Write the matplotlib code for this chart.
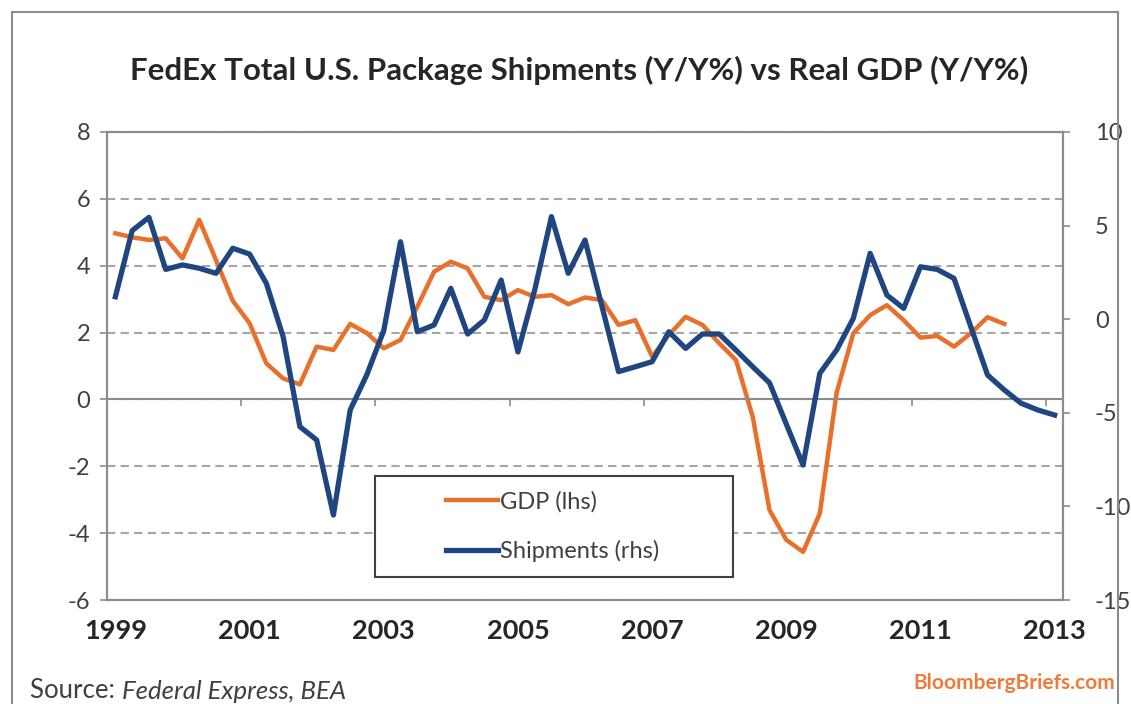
import pandas as pd
import matplotlib
matplotlib.use('Agg')
import matplotlib.pyplot as plt
from matplotlib.patches import Rectangle

plt.rcParams['font.family'] = ['Lato', 'DejaVu Sans']
plt.rcParams['axes.unicode_minus'] = False

# quarterly data, 1999Q1 .. 2013Q1
quarters = pd.period_range('1999Q1', '2013Q1', freq='Q')
year_labels = ['1999', '2001', '2003', '2005', '2007', '2009', '2011', '2013']

# Real GDP Y/Y % (lhs), through 2012Q2
gdp = [4.97, 4.85, 4.77, 4.82, 4.22, 5.37, 4.17, 2.95,
       2.28, 1.08, 0.63, 0.45, 1.58, 1.48, 2.26, 1.98,
       1.53, 1.78, 2.77, 3.82, 4.12, 3.92, 3.07, 2.97,
       3.27, 3.07, 3.12, 2.85, 3.05, 2.97, 2.23, 2.37,
       1.28, 1.93, 2.47, 2.23, 1.68, 1.18, -0.52, -3.31,
       -4.20, -4.56, -3.41, 0.20, 1.98, 2.52, 2.82, 2.37,
       1.85, 1.90, 1.58, 1.98, 2.46, 2.26]

# FedEx total U.S. package shipments Y/Y % (rhs)
shipments = [1.20, 4.73, 5.44, 2.66, 2.90, 2.72, 2.45, 3.79,
             3.48, 1.92, -0.93, -5.74, -6.45, -10.46, -4.85, -2.95,
             -0.60, 4.14, -0.67, -0.31, 1.65, -0.79, -0.04, 2.09,
             -1.75, 1.56, 5.48, 2.45, 4.23, 0.72, -2.80, -2.54,
             -2.27, -0.67, -1.56, -0.79, -0.79, -1.65, -2.54, -3.40,
             -5.60, -7.79, -2.89, -1.65, 0.05, 3.52, 1.29, 0.58,
             2.80, 2.66, 2.18, -0.40, -2.98, -3.78, -4.49, -4.85,
             -5.12]

orange = '#E8702A'
navy = '#1F4680'
axis_gray = '#8C8C8C'
txt = '#404040'

fig = plt.figure(figsize=(11.31, 7.04), dpi=100)
ax = fig.add_axes([0.0946, 0.1477, 0.8453, 0.6648])
ax2 = ax.twinx()

x_gdp = range(len(gdp))
x_ship = range(len(shipments))
n = len(quarters)

ax.plot(x_gdp, gdp, color=orange, lw=3.2, solid_joinstyle='round', label='GDP (lhs)')
ax2.plot(x_ship, shipments, color=navy, lw=3.8, solid_joinstyle='round', label='Shipments (rhs)')

ax.set_xlim(-0.5, n - 0.5)
ax.set_ylim(-6, 8)
ax2.set_ylim(-15, 10)

ax.set_yticks(range(-6, 9, 2))
ax2.set_yticks(range(-15, 11, 5))
ax.grid(axis='y', color='#A6A6A6', lw=1.5, ls=(0, (4, 2.5)))
ax.set_axisbelow(True)

# horizontal axis crosses at zero, ticks between every 8 quarters
ax.spines['bottom'].set_position(('data', 0))
ax.set_xticks([k - 0.5 for k in range(8, n, 8)])
ax.tick_params(axis='x', length=5, width=1.2, color=axis_gray, labelbottom=False)

sec = ax.secondary_xaxis('bottom')
sec.set_xticks(range(0, n, 8))
sec.set_xticklabels(year_labels)
sec.tick_params(length=0, pad=14, labelsize=19.5, colors='#262626')
for lab in sec.get_xticklabels():
    lab.set_fontweight('bold')
sec.spines['bottom'].set_color(axis_gray)
sec.spines['bottom'].set_linewidth(1.5)

for a in (ax, ax2):
    for s in a.spines.values():
        s.set_color(axis_gray)
        s.set_linewidth(1.5)

ax.tick_params(axis='y', length=5, width=1.2, color=axis_gray, labelsize=17,
               labelcolor=txt, pad=7)
ax2.tick_params(axis='y', length=5, width=1.2, color=axis_gray, labelsize=17,
                labelcolor=txt, pad=18)

# legend box
ax2.add_patch(Rectangle((0.2803, 0.0491), 0.3745, 0.2159, transform=ax2.transAxes,
                        facecolor='white', edgecolor='#404040', lw=1.5, zorder=5))
h1, l1 = ax.get_legend_handles_labels()
h2, l2 = ax2.get_legend_handles_labels()
leg = ax2.legend(h1 + h2, l1 + l2, loc='center', bbox_to_anchor=(0.466, 0.157),
                 frameon=False, fontsize=17, handlelength=2.2, handletextpad=0.1,
                 labelspacing=1.15, labelcolor=txt)
leg.set_zorder(6)

fig.text(0.512, 0.90, 'FedEx Total U.S. Package Shipments (Y/Y%) vs Real GDP (Y/Y%)',
         ha='center', va='center', fontsize=22.5, fontweight='bold', color='#262626')

t1 = fig.text(30 / 1131, 0.0085, 'Source: ', ha='left', va='baseline', fontsize=18.5, color=txt)
ax.annotate('Federal Express, BEA', xy=(1, 0), xycoords=t1, ha='left', va='bottom',
            fontsize=18.5, style='italic', color=txt, annotation_clip=False)
fig.text(1115 / 1131, 1 - 683 / 704, 'BloombergBriefs.com', ha='right', va='center',
         fontsize=15, fontweight='bold', color='#EE7B3A')

# outer frame of the chart image
fig.add_artist(Rectangle((12 / 1131, -0.1), 1106 / 1131, 1.1 - 12 / 704,
                         transform=fig.transFigure, fill=False, edgecolor='#8C8C8C', lw=1.5))

fig.savefig('out.png', dpi=100)
